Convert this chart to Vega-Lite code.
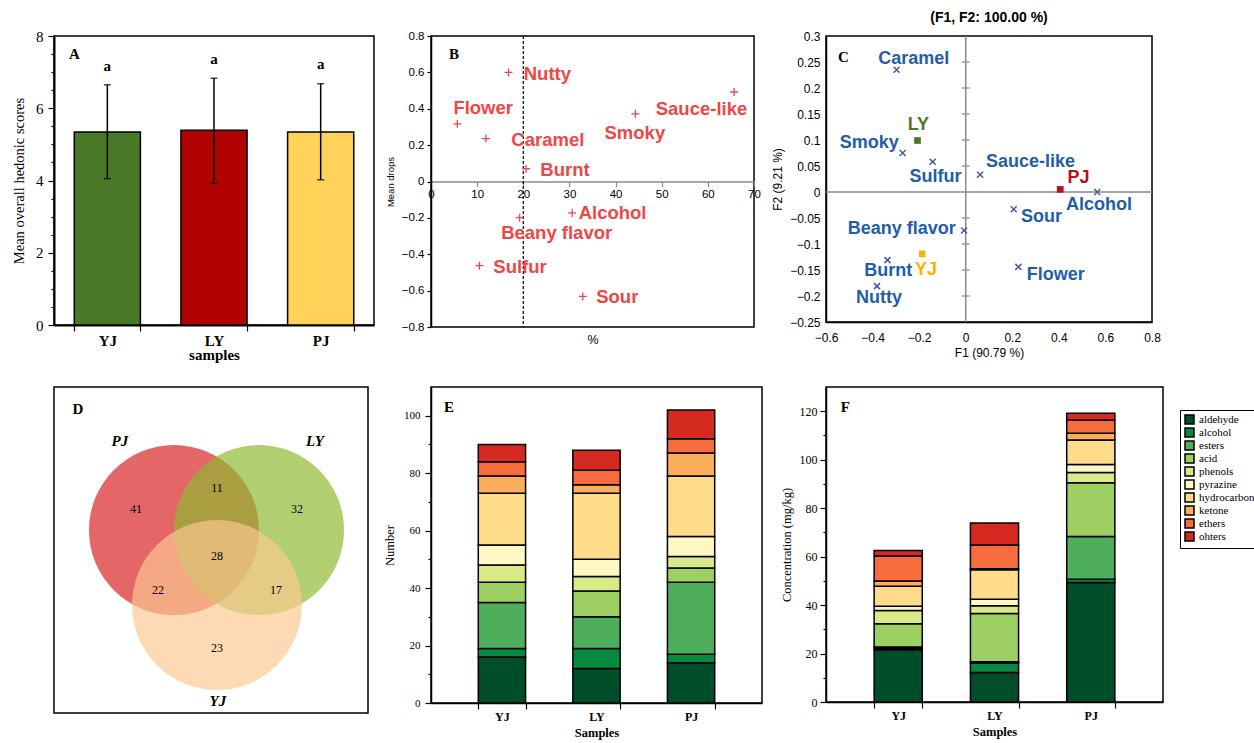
{
"$schema": "https://vega.github.io/schema/vega-lite/v6.json",
"background": "white",
"padding": {"left": 10, "top": 10, "right": 0, "bottom": 0},
"columns": 3,
"align": "each",
"bounds": "full",
"spacing": {"row": 23, "column": 7},
"resolve": {"scale": {"color": "independent"}, "legend": {"color": "independent"}},
"config": {
  "view": {"stroke": "black", "strokeWidth": 1.5},
  "font": "Liberation Sans",
  "axis": {"grid": false, "domainColor": "black", "tickColor": "black", "labelColor": "black", "titleColor": "black", "titleFontWeight": "normal", "domainWidth": 1.5, "tickWidth": 1.2, "labelOverlap": false}
},
"datasets": {
  "hedonic": [
    {"sample": "YJ", "score": 5.34, "low": 4.05, "high": 6.65, "sig": "a", "sig_y": 7.18},
    {"sample": "LY", "score": 5.39, "low": 3.93, "high": 6.83, "sig": "a", "sig_y": 7.35},
    {"sample": "PJ", "score": 5.34, "low": 4.02, "high": 6.68, "sig": "a", "sig_y": 7.23}
  ],
  "drops": [
    {"attr": "Nutty", "pct": 16.8, "drops": 0.6, "lx": 20.1, "ly": 0.592},
    {"attr": "Flower", "pct": 5.7, "drops": 0.317, "lx": 4.85, "ly": 0.404},
    {"attr": "Caramel", "pct": 11.9, "drops": 0.236, "lx": 17.4, "ly": 0.229},
    {"attr": "Burnt", "pct": 20.6, "drops": 0.07, "lx": 23.7, "ly": 0.065},
    {"attr": "Smoky", "pct": 44.3, "drops": 0.372, "lx": 37.6, "ly": 0.265},
    {"attr": "Sauce-like", "pct": 65.7, "drops": 0.492, "lx": 48.7, "ly": 0.398},
    {"attr": "Alcohol", "pct": 30.6, "drops": -0.173, "lx": 32.0, "ly": -0.171},
    {"attr": "Beany flavor", "pct": 19.2, "drops": -0.199, "lx": 15.2, "ly": -0.282},
    {"attr": "Sulfur", "pct": 10.5, "drops": -0.463, "lx": 13.5, "ly": -0.468},
    {"attr": "Sour", "pct": 32.9, "drops": -0.632, "lx": 35.8, "ly": -0.634}
  ],
  "vars": [
    {"attr": "Caramel", "f1": -0.297, "f2": 0.235, "lx": -0.223, "ly": 0.256},
    {"attr": "Smoky", "f1": -0.271, "f2": 0.075, "lx": -0.414, "ly": 0.094},
    {"attr": "Sulfur", "f1": -0.142, "f2": 0.058, "lx": -0.13, "ly": 0.029},
    {"attr": "Sauce-like", "f1": 0.062, "f2": 0.033, "lx": 0.278, "ly": 0.058},
    {"attr": "Alcohol", "f1": 0.565, "f2": 0.0, "lx": 0.572, "ly": -0.025},
    {"attr": "Sour", "f1": 0.206, "f2": -0.033, "lx": 0.325, "ly": -0.049},
    {"attr": "Beany flavor", "f1": -0.007, "f2": -0.074, "lx": -0.275, "ly": -0.072},
    {"attr": "Flower", "f1": 0.226, "f2": -0.144, "lx": 0.387, "ly": -0.16},
    {"attr": "Burnt", "f1": -0.336, "f2": -0.131, "lx": -0.333, "ly": -0.151},
    {"attr": "Nutty", "f1": -0.381, "f2": -0.181, "lx": -0.372, "ly": -0.204}
  ],
  "obs": [
    {"sample": "LY", "f1": -0.207, "f2": 0.099, "lx": -0.203, "ly": 0.128},
    {"sample": "PJ", "f1": 0.406, "f2": 0.005, "lx": 0.484, "ly": 0.026},
    {"sample": "YJ", "f1": -0.187, "f2": -0.119, "lx": -0.17, "ly": -0.15}
  ],
  "cticks": [{"v": -0.2}, {"v": -0.15}, {"v": -0.1}, {"v": -0.05}, {"v": 0.05}, {"v": 0.1}, {"v": 0.15}, {"v": 0.2}, {"v": 0.25}],
  "venn_sets": [
    {"set": "PJ", "cx": 38.2, "cy": 56.1},
    {"set": "LY", "cx": 65.3, "cy": 56.1},
    {"set": "YJ", "cx": 51.9, "cy": 33.1}
  ],
  "venn_counts": [
    {"count": "41", "x": 26.1, "y": 62.6},
    {"count": "11", "x": 51.9, "y": 69.0},
    {"count": "32", "x": 77.4, "y": 62.6},
    {"count": "28", "x": 51.9, "y": 48.2},
    {"count": "22", "x": 33.1, "y": 37.7},
    {"count": "17", "x": 70.7, "y": 37.7},
    {"count": "23", "x": 51.9, "y": 19.9}
  ],
  "venn_labels": [
    {"set": "PJ", "x": 21.0, "y": 83.4},
    {"set": "LY", "x": 83.1, "y": 83.4},
    {"set": "YJ", "x": 52.2, "y": 3.7}
  ],
  "counts": [
    {"sample": "YJ", "class": "aldehyde", "idx": 1, "n": 16}, {"sample": "YJ", "class": "alcohol", "idx": 2, "n": 3}, {"sample": "YJ", "class": "esters", "idx": 3, "n": 16}, {"sample": "YJ", "class": "acid", "idx": 4, "n": 7}, {"sample": "YJ", "class": "phenols", "idx": 5, "n": 6}, {"sample": "YJ", "class": "pyrazine", "idx": 6, "n": 7}, {"sample": "YJ", "class": "hydrocarbon", "idx": 7, "n": 18}, {"sample": "YJ", "class": "ketone", "idx": 8, "n": 6}, {"sample": "YJ", "class": "ethers", "idx": 9, "n": 5}, {"sample": "YJ", "class": "ohters", "idx": 10, "n": 6},
    {"sample": "LY", "class": "aldehyde", "idx": 1, "n": 12}, {"sample": "LY", "class": "alcohol", "idx": 2, "n": 7}, {"sample": "LY", "class": "esters", "idx": 3, "n": 11}, {"sample": "LY", "class": "acid", "idx": 4, "n": 9}, {"sample": "LY", "class": "phenols", "idx": 5, "n": 5}, {"sample": "LY", "class": "pyrazine", "idx": 6, "n": 6}, {"sample": "LY", "class": "hydrocarbon", "idx": 7, "n": 23}, {"sample": "LY", "class": "ketone", "idx": 8, "n": 3}, {"sample": "LY", "class": "ethers", "idx": 9, "n": 5}, {"sample": "LY", "class": "ohters", "idx": 10, "n": 7},
    {"sample": "PJ", "class": "aldehyde", "idx": 1, "n": 14}, {"sample": "PJ", "class": "alcohol", "idx": 2, "n": 3}, {"sample": "PJ", "class": "esters", "idx": 3, "n": 25}, {"sample": "PJ", "class": "acid", "idx": 4, "n": 5}, {"sample": "PJ", "class": "phenols", "idx": 5, "n": 4}, {"sample": "PJ", "class": "pyrazine", "idx": 6, "n": 7}, {"sample": "PJ", "class": "hydrocarbon", "idx": 7, "n": 21}, {"sample": "PJ", "class": "ketone", "idx": 8, "n": 8}, {"sample": "PJ", "class": "ethers", "idx": 9, "n": 5}, {"sample": "PJ", "class": "ohters", "idx": 10, "n": 10}
  ],
  "conc": [
    {"sample": "YJ", "class": "aldehyde", "idx": 1, "c": 21.6}, {"sample": "YJ", "class": "alcohol", "idx": 2, "c": 0.6}, {"sample": "YJ", "class": "esters", "idx": 3, "c": 0.5}, {"sample": "YJ", "class": "acid", "idx": 4, "c": 9.6}, {"sample": "YJ", "class": "phenols", "idx": 5, "c": 5.5}, {"sample": "YJ", "class": "pyrazine", "idx": 6, "c": 1.7}, {"sample": "YJ", "class": "hydrocarbon", "idx": 7, "c": 8.3}, {"sample": "YJ", "class": "ketone", "idx": 8, "c": 2.1}, {"sample": "YJ", "class": "ethers", "idx": 9, "c": 10.4}, {"sample": "YJ", "class": "ohters", "idx": 10, "c": 2.2},
    {"sample": "LY", "class": "aldehyde", "idx": 1, "c": 12.2}, {"sample": "LY", "class": "alcohol", "idx": 2, "c": 3.9}, {"sample": "LY", "class": "esters", "idx": 3, "c": 0.5}, {"sample": "LY", "class": "acid", "idx": 4, "c": 19.9}, {"sample": "LY", "class": "phenols", "idx": 5, "c": 3.2}, {"sample": "LY", "class": "pyrazine", "idx": 6, "c": 2.7}, {"sample": "LY", "class": "hydrocarbon", "idx": 7, "c": 12.2}, {"sample": "LY", "class": "ketone", "idx": 8, "c": 0.4}, {"sample": "LY", "class": "ethers", "idx": 9, "c": 9.8}, {"sample": "LY", "class": "ohters", "idx": 10, "c": 9.1},
    {"sample": "PJ", "class": "aldehyde", "idx": 1, "c": 49.3}, {"sample": "PJ", "class": "alcohol", "idx": 2, "c": 1.4}, {"sample": "PJ", "class": "esters", "idx": 3, "c": 17.6}, {"sample": "PJ", "class": "acid", "idx": 4, "c": 22.2}, {"sample": "PJ", "class": "phenols", "idx": 5, "c": 4.2}, {"sample": "PJ", "class": "pyrazine", "idx": 6, "c": 3.3}, {"sample": "PJ", "class": "hydrocarbon", "idx": 7, "c": 10.1}, {"sample": "PJ", "class": "ketone", "idx": 8, "c": 2.8}, {"sample": "PJ", "class": "ethers", "idx": 9, "c": 5.5}, {"sample": "PJ", "class": "ohters", "idx": 10, "c": 2.8}
  ]
},
"concat": [
  {
    "width": 320, "height": 289,
    "data": {"name": "hedonic"},
    "encoding": {
      "x": {"field": "sample", "type": "nominal", "sort": ["YJ", "LY", "PJ"], "title": "samples",
        "scale": {"paddingInner": 0.38, "paddingOuter": 0.19},
        "axis": {"labelAngle": 0, "labelFont": "Liberation Serif", "labelFontWeight": "bold", "labelFontSize": 15, "tickBand": "extent", "tickSize": 6, "labelPadding": 2, "titleFont": "Liberation Serif", "titleFontSize": 15, "titleFontWeight": "bold", "titlePadding": -1, "domainWidth": 2}}
    },
    "layer": [
      {"mark": {"type": "bar", "stroke": "black", "strokeWidth": 1.5},
       "encoding": {
         "y": {"field": "score", "type": "quantitative", "title": "Mean overall hedonic scores", "scale": {"domain": [0, 8], "nice": false},
           "axis": {"values": [0, 0.5, 1, 1.5, 2, 2.5, 3, 3.5, 4, 4.5, 5, 5.5, 6, 6.5, 7, 7.5, 8], "tickCount": 100, "labelOverlap": false, "labelExpr": "datum.value % 2 === 0 ? '' + datum.value : ''", "tickSize": {"condition": {"test": "datum.value % 2 === 0", "value": 6}, "value": 3}, "labelPadding": 5, "labelFont": "Liberation Serif", "labelFontSize": 15, "titleFont": "Liberation Serif", "titleFontSize": 14.5, "titlePadding": 9, "domainWidth": 2}},
         "color": {"field": "sample", "type": "nominal", "scale": {"domain": ["YJ", "LY", "PJ"], "range": ["#4a7a27", "#b20303", "#ffd35a"]}, "legend": null}
       }},
      {"mark": {"type": "rule", "color": "black", "strokeWidth": 1.5},
       "encoding": {"y": {"field": "low", "type": "quantitative"}, "y2": {"field": "high"}}},
      {"mark": {"type": "tick", "orient": "horizontal", "size": 7, "thickness": 1.5, "color": "black"},
       "encoding": {"y": {"field": "low", "type": "quantitative"}}},
      {"mark": {"type": "tick", "orient": "horizontal", "size": 7, "thickness": 1.5, "color": "black"},
       "encoding": {"y": {"field": "high", "type": "quantitative"}}},
      {"mark": {"type": "text", "font": "Liberation Serif", "fontWeight": "bold", "fontSize": 15, "color": "black", "baseline": "middle"},
       "encoding": {"y": {"field": "sig_y", "type": "quantitative"}, "text": {"field": "sig"}}},
      {"data": {"values": [{}]},
       "mark": {"type": "text", "font": "Liberation Serif", "fontWeight": "bold", "fontSize": 15, "color": "black", "baseline": "middle", "dx": -33},
       "encoding": {"x": {"datum": "YJ", "type": "nominal"}, "y": {"datum": 7.5, "type": "quantitative"}, "text": {"value": "A"}}}
    ]
  },
  {
    "width": 323, "height": 291,
    "layer": [
      {"data": {"values": [{}]},
       "mark": {"type": "rule", "color": "black", "strokeDash": [3, 2], "strokeWidth": 1.2},
       "encoding": {"x": {"datum": 20, "type": "quantitative"}}},
      {"data": {"name": "drops"},
       "mark": {"type": "point", "shape": "M-1,0H1M0,-1V1", "size": 64, "color": "#f04646", "strokeWidth": 1.3, "opacity": 1},
       "encoding": {
         "x": {"field": "pct", "type": "quantitative", "title": "%", "scale": {"domain": [0, 70], "nice": false},
           "axis": {"offset": -145.5, "values": [0, 10, 20, 30, 40, 50, 60, 70], "tickCount": 100, "format": "d", "labelOverlap": false, "labelFlush": false, "tickSize": 5, "labelPadding": 2, "domainColor": "#8a8a8a", "tickColor": "#8a8a8a", "domainWidth": 1.5, "labelFontSize": 11.5, "titleFontSize": 12.5, "titleY": 152}},
         "y": {"field": "drops", "type": "quantitative", "title": "Mean drops", "scale": {"domain": [-0.8, 0.8], "nice": false},
           "axis": {"values": [-0.8, -0.6, -0.4, -0.2, 0, 0.2, 0.4, 0.6, 0.8], "tickCount": 100, "format": "~f", "labelOverlap": false, "labelFlush": false, "tickSize": 4, "labelPadding": 3, "labelFontSize": 11.5, "titleFontSize": 9.5, "titlePadding": 6}}
       }},
      {"data": {"name": "drops"},
       "mark": {"type": "text", "align": "left", "baseline": "middle", "fontSize": 18.5, "fontWeight": "bold", "color": "#f04646"},
       "encoding": {"x": {"field": "lx", "type": "quantitative"}, "y": {"field": "ly", "type": "quantitative"}, "text": {"field": "attr"}}},
      {"data": {"values": [{}]},
       "mark": {"type": "text", "font": "Liberation Serif", "fontWeight": "bold", "fontSize": 15, "color": "black", "baseline": "middle"},
       "encoding": {"x": {"datum": 5, "type": "quantitative"}, "y": {"datum": 0.7, "type": "quantitative"}, "text": {"value": "B"}}}
    ]
  },
  {
    "width": 326, "height": 286,
    "title": {"text": "(F1, F2: 100.00 %)", "fontSize": 14, "fontWeight": "bold", "offset": 5, "font": "Liberation Sans", "color": "black"},
    "layer": [
      {"data": {"values": [{}]},
       "mark": {"type": "rule", "color": "#8a8a8a", "strokeWidth": 1.5},
       "encoding": {"x": {"datum": 0, "type": "quantitative"}}},
      {"data": {"values": [{}]},
       "mark": {"type": "rule", "color": "#8a8a8a", "strokeWidth": 1.5},
       "encoding": {"y": {"datum": 0, "type": "quantitative"}}},
      {"data": {"name": "cticks"},
       "mark": {"type": "point", "shape": "M-1,0H1", "size": 64, "color": "#8a8a8a", "strokeWidth": 1.2, "opacity": 1},
       "encoding": {"x": {"datum": 0, "type": "quantitative"}, "y": {"field": "v", "type": "quantitative"}}},
      {"data": {"name": "vars"},
       "mark": {"type": "point", "shape": "M-1,-1L1,1M-1,1L1,-1", "size": 36, "color": "#4a55a8", "strokeWidth": 1.5, "opacity": 1},
       "encoding": {
         "x": {"field": "f1", "type": "quantitative", "title": "F1 (90.79 %)", "scale": {"domain": [-0.6, 0.8], "nice": false},
           "axis": {"values": [-0.6, -0.4, -0.2, 0, 0.2, 0.4, 0.6, 0.8], "tickCount": 100, "format": "~f", "labelOverlap": false, "ticks": false, "labelPadding": 10, "labelFlush": false, "labelFontSize": 12, "titleFontSize": 12, "titlePadding": 4}},
         "y": {"field": "f2", "type": "quantitative", "title": "F2 (9.21 %)", "scale": {"domain": [-0.25, 0.3], "nice": false},
           "axis": {"values": [-0.25, -0.2, -0.15, -0.1, -0.05, 0, 0.05, 0.1, 0.15, 0.2, 0.25, 0.3], "tickCount": 100, "format": "~f", "labelOverlap": false, "ticks": false, "labelPadding": 6, "labelFlush": false, "labelFontSize": 12, "titleFontSize": 12, "titlePadding": 5}}
       }},
      {"data": {"name": "vars"},
       "mark": {"type": "text", "align": "center", "baseline": "middle", "fontSize": 18, "fontWeight": "bold", "color": "#1f5ea8"},
       "encoding": {"x": {"field": "lx", "type": "quantitative"}, "y": {"field": "ly", "type": "quantitative"}, "text": {"field": "attr"}}},
      {"data": {"name": "obs"},
       "mark": {"type": "square", "size": 45, "filled": true, "opacity": 1},
       "encoding": {"x": {"field": "f1", "type": "quantitative"}, "y": {"field": "f2", "type": "quantitative"},
         "color": {"field": "sample", "type": "nominal", "scale": {"domain": ["LY", "PJ", "YJ"], "range": ["#4a7a27", "#b5121b", "#f7b500"]}, "legend": null}}},
      {"data": {"name": "obs"},
       "mark": {"type": "text", "align": "center", "baseline": "middle", "fontSize": 18, "fontWeight": "bold"},
       "encoding": {"x": {"field": "lx", "type": "quantitative"}, "y": {"field": "ly", "type": "quantitative"}, "text": {"field": "sample"},
         "color": {"field": "sample", "type": "nominal", "legend": null}}},
      {"data": {"values": [{}]},
       "mark": {"type": "text", "font": "Liberation Serif", "fontWeight": "bold", "fontSize": 15, "color": "black", "baseline": "middle"},
       "encoding": {"x": {"datum": -0.525, "type": "quantitative"}, "y": {"datum": 0.26, "type": "quantitative"}, "text": {"value": "C"}}}
    ]
  },
  {
    "width": 314, "height": 326,
    "layer": [
      {"data": {"name": "venn_sets"},
       "mark": {"type": "circle", "size": 28900, "opacity": 0.68, "strokeWidth": 0},
       "encoding": {
         "x": {"field": "cx", "type": "quantitative", "scale": {"domain": [0, 100], "nice": false}, "axis": null},
         "y": {"field": "cy", "type": "quantitative", "scale": {"domain": [0, 100], "nice": false}, "axis": null},
         "color": {"field": "set", "type": "nominal", "scale": {"domain": ["PJ", "LY", "YJ"], "range": ["#d91e1e", "#8cb82d", "#fcc890"]}, "legend": null}
       }},
      {"data": {"name": "venn_counts"},
       "mark": {"type": "text", "font": "Liberation Serif", "fontSize": 12, "color": "black", "baseline": "middle"},
       "encoding": {"x": {"field": "x", "type": "quantitative"}, "y": {"field": "y", "type": "quantitative"}, "text": {"field": "count"}}},
      {"data": {"name": "venn_labels"},
       "mark": {"type": "text", "font": "Liberation Serif", "fontSize": 15, "fontWeight": "bold", "fontStyle": "italic", "color": "black", "baseline": "middle"},
       "encoding": {"x": {"field": "x", "type": "quantitative"}, "y": {"field": "y", "type": "quantitative"}, "text": {"field": "set"}}},
      {"data": {"values": [{}]},
       "mark": {"type": "text", "font": "Liberation Serif", "fontWeight": "bold", "fontSize": 15, "color": "black", "baseline": "middle"},
       "encoding": {"x": {"datum": 7.6, "type": "quantitative"}, "y": {"datum": 93.3, "type": "quantitative"}, "text": {"value": "D"}}}
    ]
  },
  {
    "width": 331, "height": 316,
    "layer": [
      {"data": {"name": "counts"},
       "mark": {"type": "bar", "stroke": "black", "strokeWidth": 1.5},
       "encoding": {
         "x": {"field": "sample", "type": "nominal", "sort": ["YJ", "LY", "PJ"], "title": "Samples",
           "scale": {"paddingInner": 0.5, "paddingOuter": 0.5},
           "axis": {"labelAngle": 0, "labelFont": "Liberation Serif", "labelFontWeight": "bold", "labelFontSize": 12, "tickBand": "extent", "tickSize": 6, "labelPadding": 2, "titleFont": "Liberation Serif", "titleFontSize": 12.5, "titleFontWeight": "bold", "titlePadding": 4}},
         "y": {"field": "n", "type": "quantitative", "title": "Number", "scale": {"domain": [0, 110], "nice": false},
           "axis": {"values": [0, 10, 20, 30, 40, 50, 60, 70, 80, 90, 100], "tickCount": 100, "labelOverlap": false, "labelExpr": "datum.value % 20 === 0 ? '' + datum.value : ''", "tickSize": {"condition": {"test": "datum.value % 20 === 0", "value": 6}, "value": 3}, "labelPadding": 5, "labelFont": "Liberation Serif", "labelFontSize": 11, "titleFont": "Liberation Serif", "titleFontSize": 12.5, "titlePadding": 7}},
         "color": {"field": "class", "type": "nominal",
           "scale": {"domain": ["aldehyde", "alcohol", "esters", "acid", "phenols", "pyrazine", "hydrocarbon", "ketone", "ethers", "ohters"], "range": ["#004d2a", "#078a3f", "#4fae5c", "#9dcf63", "#d8ea87", "#fff8c2", "#fedc89", "#fdae5c", "#f76c3c", "#d42a20"]},
           "legend": null},
         "order": {"field": "idx", "type": "quantitative", "sort": "ascending"}
       }},
      {"data": {"values": [{}]},
       "mark": {"type": "text", "font": "Liberation Serif", "fontWeight": "bold", "fontSize": 15, "color": "black", "baseline": "middle", "dx": -53},
       "encoding": {"x": {"datum": "YJ", "type": "nominal"}, "y": {"datum": 103, "type": "quantitative"}, "text": {"value": "E"}}}
    ]
  },
  {
    "width": 337, "height": 315,
    "layer": [
      {"data": {"name": "conc"},
       "mark": {"type": "bar", "stroke": "black", "strokeWidth": 1.5},
       "encoding": {
         "x": {"field": "sample", "type": "nominal", "sort": ["YJ", "LY", "PJ"], "title": "Samples",
           "scale": {"paddingInner": 0.5, "paddingOuter": 0.5},
           "axis": {"labelAngle": 0, "labelFont": "Liberation Serif", "labelFontWeight": "bold", "labelFontSize": 12, "tickBand": "extent", "tickSize": 6, "labelPadding": 2, "titleFont": "Liberation Serif", "titleFontSize": 12.5, "titleFontWeight": "bold", "titlePadding": 4}},
         "y": {"field": "c", "type": "quantitative", "title": "Concentration (mg/kg)", "scale": {"domain": [0, 130], "nice": false},
           "axis": {"values": [0, 10, 20, 30, 40, 50, 60, 70, 80, 90, 100, 110, 120], "tickCount": 100, "labelOverlap": false, "labelExpr": "datum.value % 20 === 0 ? '' + datum.value : ''", "tickSize": {"condition": {"test": "datum.value % 20 === 0", "value": 6}, "value": 3}, "labelPadding": 3, "labelFont": "Liberation Serif", "labelFontSize": 12, "titleFont": "Liberation Serif", "titleFontSize": 12.5, "titlePadding": 6}},
         "color": {"field": "class", "type": "nominal",
           "scale": {"domain": ["aldehyde", "alcohol", "esters", "acid", "phenols", "pyrazine", "hydrocarbon", "ketone", "ethers", "ohters"], "range": ["#004d2a", "#078a3f", "#4fae5c", "#9dcf63", "#d8ea87", "#fff8c2", "#fedc89", "#fdae5c", "#f76c3c", "#d42a20"]},
           "legend": {"title": null, "orient": "none", "legendX": 354, "legendY": 23, "symbolType": "square", "symbolSize": 81, "symbolStrokeColor": "black", "symbolStrokeWidth": 1.5, "symbolOpacity": 1, "labelFont": "Liberation Serif", "labelFontSize": 11, "labelColor": "black", "strokeColor": "black", "fillColor": "white", "padding": 4, "rowPadding": -3.5, "labelOffset": 4}},
         "order": {"field": "idx", "type": "quantitative", "sort": "ascending"}
       }},
      {"data": {"values": [{}]},
       "mark": {"type": "text", "font": "Liberation Serif", "fontWeight": "bold", "fontSize": 15, "color": "black", "baseline": "middle", "dx": -53},
       "encoding": {"x": {"datum": "YJ", "type": "nominal"}, "y": {"datum": 121.7, "type": "quantitative"}, "text": {"value": "F"}}}
    ]
  }
]
}
